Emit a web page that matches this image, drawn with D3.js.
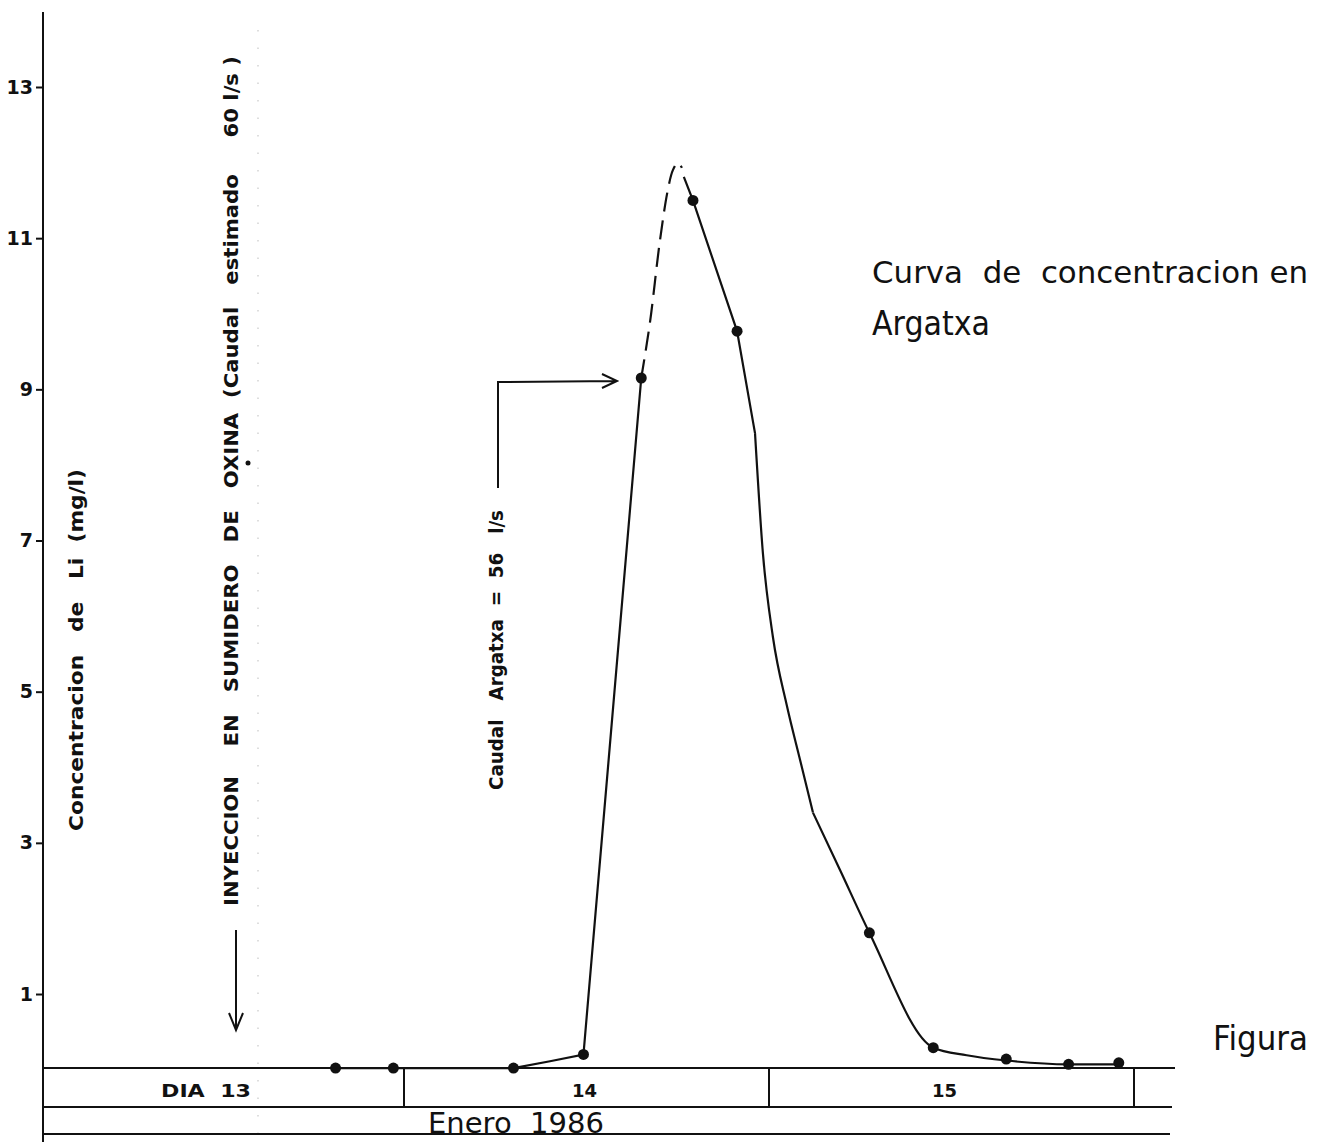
<!DOCTYPE html>
<html>
<head>
<meta charset="utf-8">
<script src="https://cdn.jsdelivr.net/npm/d3@7"></script>
<style>
  body { margin: 0; background: #fff; }
  text { font-family: "DejaVu Sans", sans-serif; fill: #111; white-space: pre; }
</style>
</head>
<body>
<div id="chart"></div>
<script>
// measured samples (hours since 13 Jan 00:00, Li mg/l)
const sampleHours = [19.5, 23.3, 31.2, 35.8, 39.6, 43.0, 45.9, 54.6, 58.8, 63.6, 67.7, 71.0];
const sampleConc  = [0.02, 0.02, 0.02, 0.2, 9.15, 11.5, 9.77, 1.81, 0.29, 0.14, 0.07, 0.09];

// traced curve: rising limb (solid)
const riseHours = [19.5, 23.3, 31.2, 33.6, 35.8, 39.6];
const riseConc  = [0.02, 0.02, 0.02, 0.11, 0.2, 9.15];
// dashed extrapolated peak
const peakHours = [39.6, 40.17, 40.83, 41.35, 41.68, 42.01, 42.27];
const peakConc  = [9.15, 9.88, 10.97, 11.64, 11.9, 12.0, 11.93];
// falling limb (solid), drawn in three strokes: straight top, bowed middle, tail
const fallTopHours = [42.4, 43.0, 45.9, 47.08];
const fallTopConc  = [11.81, 11.5, 9.77, 8.42];
const fallMidHours = [47.08, 47.6, 48.26, 49.18, 50.04, 50.89];
const fallMidConc  = [8.42, 6.83, 5.72, 4.81, 4.1, 3.4];
const fallEndHours = [50.89, 52.67, 54.6, 58.8, 61.0, 63.6, 67.7, 71.0];
const fallEndConc  = [3.4, 2.64, 1.81, 0.29, 0.19, 0.12, 0.07, 0.07];

const yTicks = [1, 3, 5, 7, 9, 11, 13];
const days = ["DIA  13", "14", "15"];
const dayStarts = [0, 24, 48, 72];

const W = 1325, H = 1142;
const svg = d3.select("#chart").append("svg")
  .attr("width", W).attr("height", H)
  .style("background", "#fff");

const x = d3.scaleLinear().domain([0, 72]).range([39, 1134]);
const y = d3.scaleLinear().domain([0, 13]).range([1069.6, 87]);

// faint scan marks
svg.append("line")
  .attr("x1", 258).attr("x2", 258).attr("y1", 30).attr("y2", 1140)
  .attr("stroke", "#c8c8c8").attr("stroke-width", 1.2)
  .attr("stroke-dasharray", "1.5,16");

// y axis
svg.append("line")
  .attr("x1", 43).attr("x2", 43).attr("y1", 12).attr("y2", 1142)
  .attr("stroke", "#111").attr("stroke-width", 2);

const yAxis = svg.append("g")
  .attr("transform", "translate(43,0)")
  .call(d3.axisLeft(y).tickValues(yTicks).tickSize(7).tickPadding(3).tickFormat(d3.format("d")));
yAxis.select(".domain").remove();
yAxis.selectAll(".tick line").attr("stroke", "#111").attr("stroke-width", 2);
yAxis.selectAll(".tick text")
  .attr("font-size", null).attr("font-family", null)
  .style("font-size", "19px").style("font-weight", "bold").attr("fill", "#111");

// date table under the curve
const tableRight = [1175, 1172, 1170];
const tableY = [1068, 1107, 1134];
tableY.forEach((ty, i) => {
  svg.append("line")
    .attr("x1", 43).attr("x2", tableRight[i]).attr("y1", ty).attr("y2", ty)
    .attr("stroke", "#111").attr("stroke-width", 2);
});
dayStarts.slice(1).forEach(h => {
  svg.append("line")
    .attr("x1", x(h)).attr("x2", x(h)).attr("y1", 1068).attr("y2", 1107)
    .attr("stroke", "#111").attr("stroke-width", 2);
});
svg.append("text").attr("x", 161).attr("y", 1097)
  .attr("textLength", 90).attr("lengthAdjust", "spacingAndGlyphs")
  .style("font-size", "18px").style("font-weight", "bold").text(days[0]);
svg.append("text").attr("x", x(36) - 2).attr("y", 1097).attr("text-anchor", "middle")
  .style("font-size", "18px").style("font-weight", "bold").text(days[1]);
svg.append("text").attr("x", x(60) - 7).attr("y", 1097).attr("text-anchor", "middle")
  .style("font-size", "18px").style("font-weight", "bold").text(days[2]);
svg.append("text").attr("x", 428).attr("y", 1133)
  .attr("textLength", 176).attr("lengthAdjust", "spacingAndGlyphs")
  .style("font-size", "29px").text("Enero  1986");

// curve
const line = d3.line().x(d => x(d[0])).y(d => y(d[1]));
const pts = (hs, cs) => hs.map((h, i) => [h, cs[i]]);

svg.append("path").attr("d", line.curve(d3.curveLinear)(pts(riseHours, riseConc)))
  .attr("fill", "none").attr("stroke", "#111").attr("stroke-width", 2.2);
svg.append("path").attr("d", line.curve(d3.curveCatmullRom)(pts(peakHours, peakConc)))
  .attr("fill", "none").attr("stroke", "#111").attr("stroke-width", 2.2)
  .attr("stroke-dasharray", "19,9");
svg.append("path").attr("d", line.curve(d3.curveLinear)(pts(fallTopHours, fallTopConc)))
  .attr("fill", "none").attr("stroke", "#111").attr("stroke-width", 2.2);
svg.append("path").attr("d", line.curve(d3.curveMonotoneX)(pts(fallMidHours, fallMidConc)))
  .attr("fill", "none").attr("stroke", "#111").attr("stroke-width", 2.2);
svg.append("path").attr("d", line.curve(d3.curveMonotoneX)(pts(fallEndHours, fallEndConc)))
  .attr("fill", "none").attr("stroke", "#111").attr("stroke-width", 2.2);

svg.append("g").selectAll("circle")
  .data(sampleHours)
  .enter()
  .append("circle")
  .attr("cx", d => x(d))
  .attr("cy", (d, i) => y(sampleConc[i]))
  .attr("r", 5.5)
  .attr("fill", "#111");

// rotated labels
function vText(cx, cy, len, size, weight, str) {
  svg.append("text")
    .attr("transform", `translate(${cx},${cy}) rotate(-90)`)
    .attr("text-anchor", "middle")
    .attr("dy", "0.35em")
    .attr("textLength", len).attr("lengthAdjust", "spacingAndGlyphs")
    .style("font-size", size + "px").style("font-weight", weight)
    .text(str);
}
vText(76, 650, 362, 20, "bold", "Concentracion   de   Li  (mg/l)");
vText(231, 481, 850, 20, "bold", "INYECCION    EN   SUMIDERO   DE   OXINA  (Caudal   estimado     60 l/s )");
vText(496, 650, 280, 20, "bold", "Caudal   Argatxa  =  56   l/s");

// speck after OXINA
svg.append("circle").attr("cx", 248).attr("cy", 463).attr("r", 2.5).attr("fill", "#111");

// injection arrow
svg.append("path")
  .attr("d", "M236,930 L236,1030 M229,1013 L236,1030 L243,1013")
  .attr("fill", "none").attr("stroke", "#111").attr("stroke-width", 2);

// caudal arrow
svg.append("path")
  .attr("d", "M498,488 L498,382 L617,381 M602,374 L617,381 L602,388")
  .attr("fill", "none").attr("stroke", "#111").attr("stroke-width", 2);

// titles
svg.append("text").attr("x", 872).attr("y", 283)
  .attr("textLength", 436).attr("lengthAdjust", "spacingAndGlyphs")
  .style("font-size", "31px").text("Curva  de  concentracion en");
svg.append("text").attr("x", 872).attr("y", 335)
  .attr("textLength", 118).attr("lengthAdjust", "spacingAndGlyphs")
  .style("font-size", "33px").text("Argatxa");
svg.append("text").attr("x", 1213).attr("y", 1050)
  .attr("textLength", 95).attr("lengthAdjust", "spacingAndGlyphs")
  .style("font-size", "33px").text("Figura");
</script>
</body>
</html>
